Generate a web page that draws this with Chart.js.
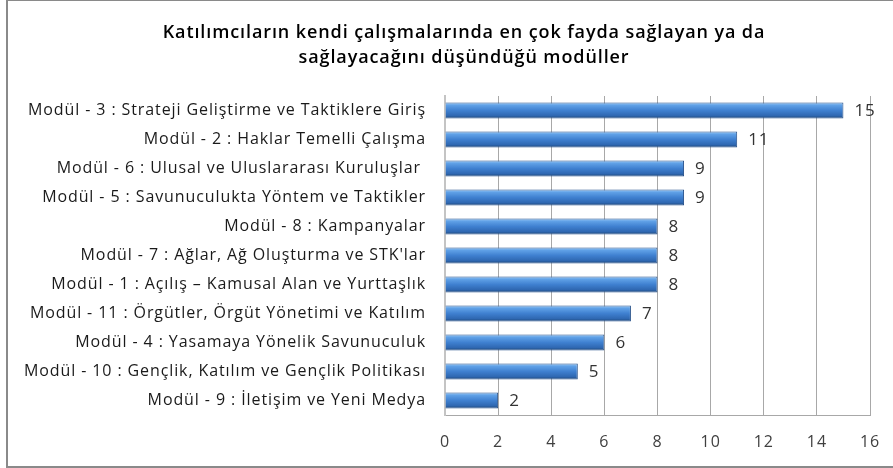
<!DOCTYPE html>
<html>
<head>
<meta charset="utf-8">
<script src="https://cdn.jsdelivr.net/npm/chart.js@4"></script>
<style>
  html, body { margin: 0; padding: 0; background: #fff; overflow: hidden; }
  #frame {
    position: absolute; left: 6px; top: 0; width: 887px; height: 465px;
    border-left: 2px solid #8a8a8a; border-top: 1px solid #8a8a8a; border-bottom: 2px solid #8a8a8a;
  }
  #wrap { position: absolute; left: 0; top: 0; width: 885px; height: 465px; }
</style>
</head>
<body>
<div id="frame"><div id="wrap"><canvas id="chart"></canvas></div></div>
<script>
// modül adları (yukarıdan aşağı)
const categories = [
  "Modül - 3 : Strateji Geliştirme ve Taktiklere Giriş",
  "Modül - 2 : Haklar Temelli Çalışma",
  "Modül - 6 : Ulusal ve Uluslararası Kuruluşlar ",
  "Modül - 5 : Savunuculukta Yöntem ve Taktikler",
  "Modül - 8 : Kampanyalar",
  "Modül - 7 : Ağlar, Ağ Oluşturma ve STK'lar",
  "Modül - 1 : Açılış – Kamusal Alan ve Yurttaşlık",
  "Modül - 11 : Örgütler, Örgüt Yönetimi ve Katılım",
  "Modül - 4 : Yasamaya Yönelik Savunuculuk",
  "Modül - 10 : Gençlik, Katılım ve Gençlik Politikası",
  "Modül - 9 : İletişim ve Yeni Medya",
]
// katılımcı sayısı
const values = [15, 11, 9, 9, 8, 8, 8, 7, 6, 5, 2]
// x ekseni
const xTicks = [0, 2, 4, 6, 8, 10, 12, 14, 16]

const titleLines = [
  "Katılımcıların kendi çalışmalarında en çok fayda sağlayan ya da",
  "sağlayacağını düşündüğü modüller",
]

const FONT = "'Open Sans', 'Noto Sans', sans-serif"

// çubuk üzerindeki degrade (Excel tarzı kabartma)
function barGradient(ctx) {
  const chart = ctx.chart
  const yScale = chart.scales.y
  if (!chart.chartArea || !yScale || ctx.dataIndex === undefined) return "#3d7cc9"
  const y = yScale.getPixelForValue(ctx.dataIndex)
  const h = 8
  const g = chart.ctx.createLinearGradient(0, y - h, 0, y + h)
  g.addColorStop(0, "#9ccbf7")
  g.addColorStop(0.18, "#5fa0e6")
  g.addColorStop(0.5, "#3f80d0")
  g.addColorStop(0.82, "#2f68b2")
  g.addColorStop(1, "#1e4778")
  return g
}

// Calibri'ye yakın genişlik için harf aralığı
const spacing = {
  id: "spacing",
  beforeDraw(chart) {
    chart.ctx.letterSpacing = "0.9px"
  },
}

// başlık (grafik alanının biraz sağına ortalı)
const titleBlock = {
  id: "titleBlock",
  afterDraw(chart) {
    const ctx = chart.ctx
    ctx.save()
    ctx.font = "600 18px " + FONT
    ctx.fillStyle = "#000"
    ctx.textAlign = "center"
    ctx.textBaseline = "middle"
    titleLines.forEach((line, i) => {
      ctx.fillText(line, 456, 32 + i * 25)
    })
    ctx.restore()
  },
}

// değer etiketleri
const valueLabels = {
  id: "valueLabels",
  afterDatasetsDraw(chart) {
    const ctx = chart.ctx
    const meta = chart.getDatasetMeta(0)
    ctx.save()
    ctx.font = "17px " + FONT
    ctx.fillStyle = "#333"
    ctx.textAlign = "left"
    ctx.textBaseline = "middle"
    meta.data.forEach((bar, i) => {
      ctx.fillText(String(values[i]), bar.x + 11, bar.y + 1)
    })
    ctx.restore()
  },
}

new Chart(document.getElementById("chart"), {
  type: "bar",
  data: {
    labels: categories,
    datasets: [
      {
        data: values,
        backgroundColor: barGradient,
        borderColor: "#27518a",
        borderWidth: 1,
        borderSkipped: "start",
        barPercentage: 0.56,
        categoryPercentage: 1,
      },
    ],
  },
  options: {
    indexAxis: "y",
    responsive: true,
    maintainAspectRatio: false,
    animation: false,
    layout: { padding: { left: 0, right: 23, top: 95, bottom: 0 } },
    plugins: {
      legend: { display: false },
      tooltip: { enabled: false },
      title: { display: false },
    },
    scales: {
      x: {
        min: 0,
        max: 16,
        afterBuildTicks(scale) {
          scale.ticks = xTicks.map((v) => ({ value: v }))
        },
        grid: { color: "#a8a8a8", drawTicks: false },
        border: { color: "#a8a8a8", width: 1 },
        ticks: {
          color: "#404040",
          padding: 18,
          maxRotation: 0,
          font: { family: FONT, size: 16 },
        },
        afterFit(scale) {
          scale.height = 51
          scale.paddingLeft = 0
          scale.paddingRight = 0
        },
      },
      y: {
        grid: { display: false, drawTicks: false },
        border: { color: "#c4c4c4", width: 2 },
        ticks: {
          color: "#1a1a1a",
          padding: 19,
          font: { family: FONT, size: 16 },
        },
        afterFit(scale) {
          scale.width = 437
        },
      },
    },
  },
  plugins: [spacing, titleBlock, valueLabels],
})
</script>
</body>
</html>
